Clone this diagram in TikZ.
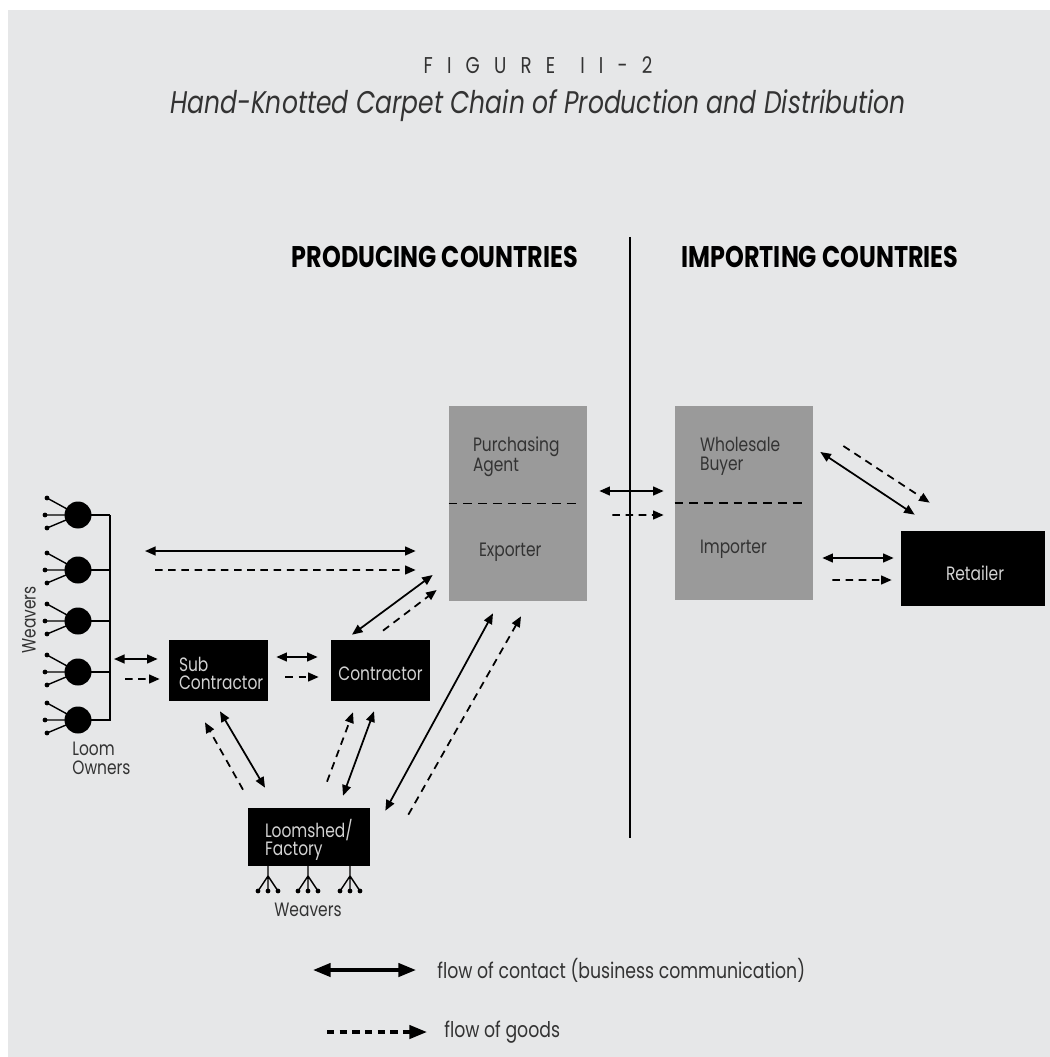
\documentclass[tikz,border=0pt]{standalone}
\usepackage{fontspec}
\setmainfont[FakeStretch=0.8]{Poppins}
\usetikzlibrary{arrows.meta}
\definecolor{panel}{HTML}{E6E7E8}
\definecolor{boxgrey}{HTML}{9A9A9A}
\definecolor{ink}{HTML}{333333}
\definecolor{pale}{HTML}{D2D2D2}
\tikzset{
  >={Triangle[length=6pt,width=5pt]},
  contact/.style={<->, line width=1pt},
  goods/.style={->, line width=1pt, dash pattern=on 4.3pt off 3.2pt},
  greybox/.style={fill=boxgrey, inner sep=0pt, minimum width=2.76cm, minimum height=3.9cm},
  blackbox/.style={fill=black, inner sep=0pt},
  lbl/.style={text=ink, font=\fontsize{11}{10.5}\selectfont, align=left, inner sep=0pt},
  boxlbl/.style={lbl, text=pale},
  owner/.style={circle, fill=black, minimum size=0.54cm, inner sep=0pt},
  split/.style={line width=0.9pt, dash pattern=on 5pt off 3.4pt},
  keytip/.style={>={Triangle[length=10pt,width=7.5pt]}}
}
\begin{document}
\begin{tikzpicture}[x=0.02cm, y=-0.02cm]
% page and panel
\useasboundingbox (0,0) rectangle (1050,1057);
\fill[white] (0,0) rectangle (1050,1057);
\fill[panel] (8,10) rectangle (1050,1057);

% titles
\node[text=ink, font=\fontsize{13}{15}\selectfont\addfontfeature{LetterSpace=62}] (fig) at (538,65) {FIGURE\hspace{1.1em}II-2};
\node[text=ink, font=\fontsize{17.8}{20}\selectfont\itshape] (title) at (538,106) {Hand-Knotted Carpet Chain of Production and Distribution};
\node[font=\fontsize{17}{20}\selectfont\bfseries] (prod) at (435,257) {PRODUCING COUNTRIES};
\node[font=\fontsize{17}{20}\selectfont\bfseries] (impc) at (820,257) {IMPORTING COUNTRIES};
\draw[line width=1.1pt] (630,237) -- (630,838);

% boxes
\node[greybox] (exp) at (518,503.5) {};
\node[greybox] (imp) at (744,503) {};
\node[blackbox, minimum width=2.88cm, minimum height=1.5cm] (ret) at (973,568.5) {};
\node[blackbox, minimum width=1.98cm, minimum height=1.22cm] (sub) at (218.5,670.5) {};
\node[blackbox, minimum width=1.98cm, minimum height=1.22cm] (con) at (380.5,670.5) {};
\node[blackbox, minimum width=2.44cm, minimum height=1.16cm] (loom) at (309,837) {};
\draw[split] (exp.west) -- ([shift={(-7,0)}]exp.east);
\draw[split] (imp.west) -- ([shift={(-7,0)}]imp.east);

% box labels
\node[lbl, anchor=west] (pa) at ([shift={(24,51)}]exp.north west) {Purchasing\\Agent};
\node[lbl, anchor=west] (ex) at ([shift={(30,147)}]exp.north west) {Exporter};
\node[lbl, anchor=west] (wb) at ([shift={(25,51)}]imp.north west) {Wholesale\\Buyer};
\node[lbl, anchor=west] (im) at ([shift={(25,144)}]imp.north west) {Importer};
\node[boxlbl, anchor=west] (subl) at ([shift={(10,3)}]sub.west) {Sub\\Contractor};
\node[boxlbl] (conl) at ([shift={(0,3)}]con.center) {Contractor};
\node[boxlbl, anchor=west] (looml) at ([shift={(17,3)}]loom.west) {Loomshed/\\Factory};
\node[boxlbl] (retl) at ([shift={(2,5)}]ret.center) {Retailer};

% loom owners with their weavers
\foreach \y [count=\i] in {515,570,621,672,720} {
  \draw[line width=0.8pt] (47,\y-17) -- (78,\y) (45,\y) -- (78,\y) (47,\y+13) -- (78,\y);
  \fill (47,\y-17) circle (2.4) (45,\y) circle (2.4) (47,\y+13) circle (2.4);
  \node[owner] (own\i) at (78,\y) {};
  \draw[line width=1pt] (own\i.center) -- (110,\y);
}
\draw[line width=1pt] (110,515) -- (110,721);
\coordinate (bus) at (110,618);
\node[lbl, rotate=90] (wvl) at (29,620) {Weavers};
\node[lbl, anchor=north west] (lo) at (72,742) {Loom\\Owners};

% weavers under the loomshed
\foreach \x in {268,308,350} {
  \draw[line width=0.8pt] (\x,866) -- (\x,876) -- (\x-10,891) (\x,876) -- (\x,891) (\x,876) -- (\x+10,891);
  \fill (\x-10,891) circle (2.4) (\x,891) circle (2.4) (\x+10,891) circle (2.4);
}
\node[lbl] (wvb) at (308,910) {Weavers};

% flows in producing countries
\draw[contact] ([shift={(35,-67)}]bus) -- ([shift={(-33,47.5)}]exp.west);
\draw[goods] ([shift={(45,-48)}]bus) -- ([shift={(-33,66.5)}]exp.west);
\draw[contact] ([shift={(4,41)}]bus) -- ([shift={(-11,-11.5)}]sub.west);
\draw[goods] ([shift={(15,61)}]bus) -- ([shift={(-9,8.5)}]sub.west);
\draw[contact] ([shift={(8,-13.5)}]sub.east) -- ([shift={(-13,-13.5)}]con.west);
\draw[goods] ([shift={(17,6.5)}]sub.east) -- ([shift={(-12,6.5)}]con.west);
\draw[contact] ([shift={(-28.5,-5)}]con.north) -- ([shift={(-16,71.5)}]exp.west);
\draw[goods] ([shift={(2.5,-9)}]con.north) -- ([shift={(-12,86.5)}]exp.west);
\draw[contact] ([shift={(1.5,10)}]sub.south) -- ([shift={(-44,-20)}]loom.north);
\draw[goods] ([shift={(-66,-18)}]loom.north) -- ([shift={(-13.5,21)}]sub.south);
\draw[contact] ([shift={(-6.5,10)}]con.south) -- ([shift={(34,-12)}]loom.north);
\draw[goods] ([shift={(18,-26)}]loom.north) -- ([shift={(-27.5,11)}]con.south);
\draw[contact] ([shift={(15,3)}]loom.north east) -- ([shift={(-25,12)}]exp.south);
\draw[goods] ([shift={(38,7)}]loom.north east) -- ([shift={(3,15)}]exp.south);

% flows to importing countries
\draw[contact] ([shift={(12,-12.5)}]exp.east) -- ([shift={(-11,-12)}]imp.west);
\draw[goods] ([shift={(25,11.5)}]exp.east) -- ([shift={(-11,12)}]imp.west);
\draw[contact] ([shift={(7,-51)}]imp.east) -- ([shift={(14,-16)}]ret.north west);
\draw[goods] ([shift={(30,-57)}]imp.east) -- ([shift={(29,-28)}]ret.north west);
\draw[contact] ([shift={(9,55)}]imp.east) -- ([shift={(-7,-10.5)}]ret.west);
\draw[goods] ([shift={(19,77)}]imp.east) -- ([shift={(-9,11.5)}]ret.west);

% legend
\node[lbl, font=\fontsize{12.3}{14}\selectfont, anchor=west] (lgc) at (437,970) {flow of contact (business communication)};
\node[lbl, font=\fontsize{12.3}{14}\selectfont, anchor=west] (lgg) at (444,1032) {flow of goods};
\draw[contact, line width=2pt, keytip] ([shift={(-124,0)}]lgc.west) -- ([shift={(-21,0)}]lgc.west);
\draw[goods, line width=2pt, dash pattern=on 4.2pt off 3pt, keytip] ([shift={(-117,0)}]lgg.west) -- ([shift={(-17,0)}]lgg.west);
\end{tikzpicture}
\end{document}
